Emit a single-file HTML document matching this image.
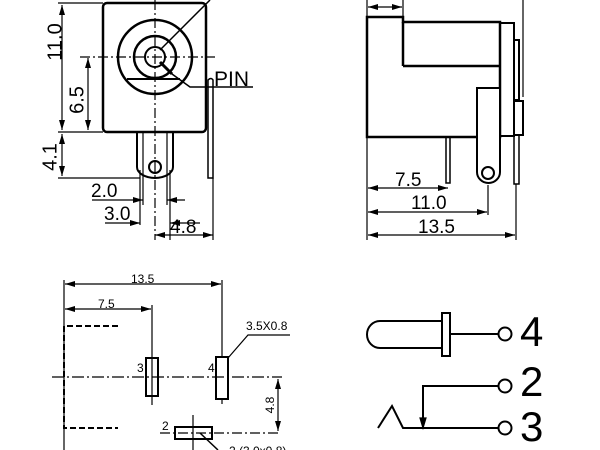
<!DOCTYPE html>
<html><head><meta charset="utf-8"><style>
html,body{margin:0;padding:0;background:#fff;}
svg{display:block;}
text{font-family:"Liberation Sans",Arial,sans-serif;fill:#000;}
</style></head><body>
<svg width="600" height="450" viewBox="0 0 600 450" xmlns="http://www.w3.org/2000/svg">
<defs>
<marker id="a" viewBox="0 0 10 6" refX="10" refY="3" markerWidth="10" markerHeight="6" orient="auto-start-reverse" markerUnits="userSpaceOnUse"><path d="M0,0L10,3L0,6z" fill="#000"/></marker>
</defs>
<g fill="none" stroke="#000" stroke-width="1.2">
<rect x="103" y="3" width="103" height="129" rx="4" stroke-width="2.5"/>
<circle cx="155" cy="57" r="37" stroke-width="2.5"/>
<circle cx="155" cy="57" r="21" stroke-width="2.5"/>
<circle cx="155" cy="57" r="10" stroke-width="2"/>
<line x1="127" y1="79" x2="180" y2="79" stroke-width="2"/>
<line x1="155" y1="0" x2="155" y2="240" stroke-dasharray="10,3,2,3"/>
<line x1="80" y1="57" x2="215" y2="57" stroke-dasharray="10,3,2,3"/>
<line x1="160" y1="50" x2="210" y2="0" stroke-width="1.5"/>
<line x1="160" y1="62" x2="172" y2="74" stroke-width="3"/>
<polyline points="172,74 190,87 253,87" stroke-width="1.5"/>
<path d="M208,80 q3,-3 5,0 v98 h-5 z" stroke-width="1.5"/>
<path d="M137,132 v35 a18,11 0 0 0 36,0 v-35" stroke-width="2"/>
<line x1="143" y1="132" x2="143" y2="205"/><line x1="167" y1="132" x2="167" y2="205"/>
<line x1="140" y1="170" x2="140" y2="225"/><line x1="170" y1="170" x2="170" y2="240"/>
<line x1="213" y1="178" x2="213" y2="240"/>
<circle cx="155" cy="167" r="6" stroke-width="2"/>
<line x1="58" y1="3" x2="103" y2="3"/><line x1="58" y1="132" x2="103" y2="132"/><line x1="58" y1="178" x2="140" y2="178"/>
<line x1="62" y1="5" x2="62" y2="130" marker-start="url(#a)" marker-end="url(#a)"/>
<line x1="88" y1="58" x2="88" y2="130" marker-start="url(#a)" marker-end="url(#a)"/>
<line x1="62" y1="134" x2="62" y2="176" marker-start="url(#a)" marker-end="url(#a)"/>
<line x1="92" y1="200" x2="143" y2="200" marker-end="url(#a)"/><line x1="185" y1="200" x2="167" y2="200" marker-end="url(#a)"/>
<line x1="105" y1="223" x2="140" y2="223" marker-end="url(#a)"/><line x1="200" y1="223" x2="170" y2="223" marker-end="url(#a)"/>
<line x1="155" y1="235" x2="213" y2="235" marker-start="url(#a)" marker-end="url(#a)"/>
<path d="M367,137 V17 H403 V22 H500 V137 Z" stroke-width="2.5"/>
<line x1="403" y1="22" x2="403" y2="66" stroke-width="2.5"/><line x1="403" y1="66" x2="500" y2="66" stroke-width="2.5"/>
<rect x="500" y="23" width="14" height="113" stroke-width="2"/>
<rect x="514" y="40" width="5" height="60" stroke-width="2"/>
<rect x="514" y="101" width="9" height="34" stroke-width="2"/>
<line x1="523" y1="0" x2="523" y2="97"/>
<path d="M477,137 V88 H500 V172 a11.5,11 0 0 1 -23,0 Z" stroke-width="2" fill="#fff"/>
<circle cx="488" cy="173" r="6" stroke-width="2"/>
<rect x="446" y="137" width="4" height="46" stroke-width="1.5"/>
<rect x="514" y="135" width="5" height="49" stroke-width="1.5"/>
<line x1="367" y1="0" x2="367" y2="17"/><line x1="403" y1="0" x2="403" y2="17"/>
<line x1="368" y1="7" x2="402" y2="7" marker-start="url(#a)" marker-end="url(#a)"/>
<line x1="367" y1="137" x2="367" y2="240"/><line x1="488" y1="185" x2="488" y2="215"/><line x1="516" y1="184" x2="516" y2="240"/>
<line x1="368" y1="188" x2="448" y2="188" marker-start="url(#a)" marker-end="url(#a)"/>
<line x1="368" y1="212" x2="487" y2="212" marker-start="url(#a)" marker-end="url(#a)"/>
<line x1="368" y1="235" x2="515" y2="235" marker-start="url(#a)" marker-end="url(#a)"/>
<line x1="64" y1="280" x2="64" y2="450"/>
<line x1="222" y1="280" x2="222" y2="357"/><line x1="152" y1="305" x2="152" y2="405"/>
<line x1="65" y1="284" x2="221" y2="284" marker-start="url(#a)" marker-end="url(#a)"/>
<line x1="65" y1="309" x2="151" y2="309" marker-start="url(#a)" marker-end="url(#a)"/>
<path d="M118,326 H64 V428 H118" stroke-width="2" stroke-dasharray="6,3"/>
<line x1="52" y1="377" x2="282" y2="377" stroke-dasharray="12,3,2,3"/>
<rect x="146" y="358" width="12" height="38" stroke-width="2"/>
<rect x="216" y="357" width="12" height="42" stroke-width="2"/>
<line x1="222" y1="399" x2="222" y2="404"/>
<rect x="175" y="427" width="37" height="12" stroke-width="2"/>
<line x1="193" y1="415" x2="193" y2="450"/>
<line x1="160" y1="433" x2="280" y2="433" stroke-dasharray="10,3,2,3"/>
<line x1="278" y1="379" x2="278" y2="431" marker-start="url(#a)" marker-end="url(#a)"/>
<polyline points="228,358 248,335 290,335"/>
<line x1="200" y1="433" x2="218" y2="450" stroke-width="1.5"/>
<path d="M443,321 H380 a13,13.5 0 0 0 0,27 H443" stroke-width="2"/>
<rect x="442" y="313" width="8" height="43" stroke-width="2"/>
<line x1="450" y1="334" x2="498" y2="334" stroke-width="2"/>
<circle cx="505" cy="334" r="6.5" stroke-width="2"/>
<polyline points="498,386 423,386 423,428" stroke-width="2"/>
<path d="M420,418 L423,428 L426,418 Z" fill="#000"/>
<circle cx="505" cy="386" r="6.5" stroke-width="2"/>
<polyline points="378,428 392,406 403,428 498,428" stroke-width="2"/>
<circle cx="505" cy="428" r="6.5" stroke-width="2"/>
</g>
<text x="0" y="0" font-size="20" transform="translate(56,42) rotate(-90)" text-anchor="middle" dominant-baseline="middle">11.0</text>
<text x="0" y="0" font-size="20" transform="translate(78,100) rotate(-90)" text-anchor="middle" dominant-baseline="middle">6.5</text>
<text x="0" y="0" font-size="20" transform="translate(51,157) rotate(-90)" text-anchor="middle" dominant-baseline="middle">4.1</text>
<text x="91" y="197" font-size="19">2.0</text>
<text x="104" y="220" font-size="19">3.0</text>
<text x="170" y="233" font-size="19">4.8</text>
<text x="214" y="86" font-size="21">PIN</text>
<text x="395" y="186" font-size="19">7.5</text>
<text x="411" y="209" font-size="19">11.0</text>
<text x="418" y="233" font-size="19">13.5</text>
<text x="131" y="283" font-size="12">13.5</text>
<text x="98" y="308" font-size="12">7.5</text>
<text x="246" y="330" font-size="12">3.5X0.8</text>
<text x="137" y="372" font-size="12">3</text>
<text x="208" y="372" font-size="12">4</text>
<text x="162" y="430" font-size="12">2</text>
<text x="229" y="455" font-size="12">2.(3.0x0.8)</text>
<text x="0" y="0" font-size="12" transform="translate(271,405) rotate(-90)" text-anchor="middle" dominant-baseline="middle">4.8</text>
<text x="520" y="346" font-size="42">4</text>
<text x="520" y="396" font-size="42">2</text>
<text x="520" y="441" font-size="42">3</text>
</svg>
</body></html>
